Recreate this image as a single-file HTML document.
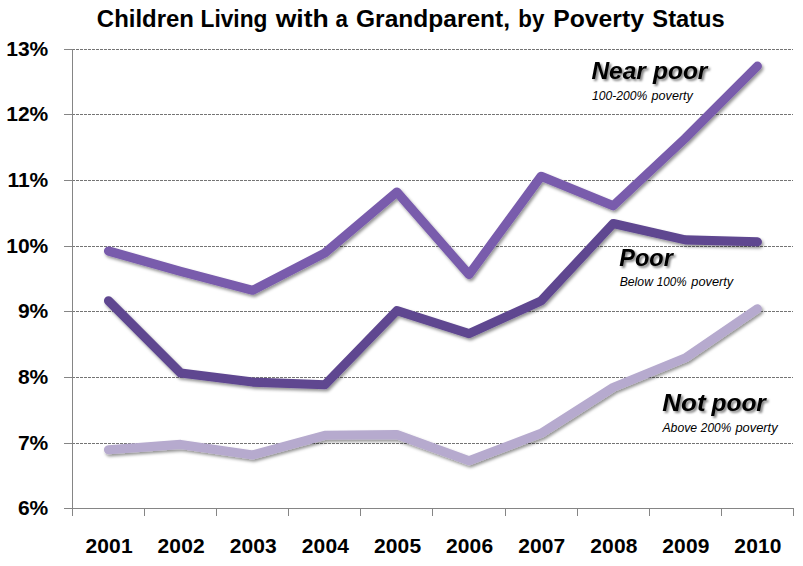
<!DOCTYPE html>
<html><head><meta charset="utf-8"><title>Children Living with a Grandparent, by Poverty Status</title>
<style>
html,body{margin:0;padding:0;background:#fff;}
body{width:803px;height:566px;overflow:hidden;font-family:"Liberation Sans",sans-serif;}
svg{display:block;}
text{font-family:"Liberation Sans",sans-serif;fill:#000;}
.ax{font-size:21px;font-weight:bold;}
.xl{letter-spacing:0.15px;}
.ti{font-size:23px;font-weight:bold;}
.big{font-size:24.3px;font-weight:bold;font-style:italic;}
.sm{font-size:12px;font-style:italic;}
</style></head><body>
<svg width="803" height="566" viewBox="0 0 803 566">
<defs>
<filter id="ls" x="-5%" y="-5%" width="110%" height="115%"><feDropShadow dx="1.5" dy="2.2" stdDeviation="1.8" flood-color="#000" flood-opacity="0.42"/></filter>
<filter id="ts" x="-10%" y="-20%" width="120%" height="150%"><feDropShadow dx="1.9" dy="1.9" stdDeviation="1.2" flood-color="#000" flood-opacity="0.5"/></filter>
</defs>
<rect width="803" height="566" fill="#fff"/>
<g shape-rendering="crispEdges">
<line x1="72" y1="49.5" x2="793" y2="49.5" stroke="#747474" stroke-width="1" stroke-dasharray="3 1"/>
<line x1="72" y1="114.5" x2="793" y2="114.5" stroke="#747474" stroke-width="1" stroke-dasharray="3 1"/>
<line x1="72" y1="180.5" x2="793" y2="180.5" stroke="#747474" stroke-width="1" stroke-dasharray="3 1"/>
<line x1="72" y1="246.5" x2="793" y2="246.5" stroke="#747474" stroke-width="1" stroke-dasharray="3 1"/>
<line x1="72" y1="311.5" x2="793" y2="311.5" stroke="#747474" stroke-width="1" stroke-dasharray="3 1"/>
<line x1="72" y1="377.5" x2="793" y2="377.5" stroke="#747474" stroke-width="1" stroke-dasharray="3 1"/>
<line x1="72" y1="443.5" x2="793" y2="443.5" stroke="#747474" stroke-width="1" stroke-dasharray="3 1"/>
<line x1="64" y1="49.5" x2="73" y2="49.5" stroke="#858585" stroke-width="1"/>
<line x1="64" y1="114.5" x2="73" y2="114.5" stroke="#858585" stroke-width="1"/>
<line x1="64" y1="180.5" x2="73" y2="180.5" stroke="#858585" stroke-width="1"/>
<line x1="64" y1="246.5" x2="73" y2="246.5" stroke="#858585" stroke-width="1"/>
<line x1="64" y1="311.5" x2="73" y2="311.5" stroke="#858585" stroke-width="1"/>
<line x1="64" y1="377.5" x2="73" y2="377.5" stroke="#858585" stroke-width="1"/>
<line x1="64" y1="443.5" x2="73" y2="443.5" stroke="#858585" stroke-width="1"/>
<line x1="64" y1="508.5" x2="73" y2="508.5" stroke="#858585" stroke-width="1"/>
<line x1="72.5" y1="49" x2="72.5" y2="516" stroke="#858585" stroke-width="1"/>
<line x1="72" y1="508.5" x2="794" y2="508.5" stroke="#858585" stroke-width="1"/>
<line x1="144.5" y1="508" x2="144.5" y2="516" stroke="#858585" stroke-width="1"/>
<line x1="216.5" y1="508" x2="216.5" y2="516" stroke="#858585" stroke-width="1"/>
<line x1="288.5" y1="508" x2="288.5" y2="516" stroke="#858585" stroke-width="1"/>
<line x1="360.5" y1="508" x2="360.5" y2="516" stroke="#858585" stroke-width="1"/>
<line x1="432.5" y1="508" x2="432.5" y2="516" stroke="#858585" stroke-width="1"/>
<line x1="505.5" y1="508" x2="505.5" y2="516" stroke="#858585" stroke-width="1"/>
<line x1="577.5" y1="508" x2="577.5" y2="516" stroke="#858585" stroke-width="1"/>
<line x1="649.5" y1="508" x2="649.5" y2="516" stroke="#858585" stroke-width="1"/>
<line x1="721.5" y1="508" x2="721.5" y2="516" stroke="#858585" stroke-width="1"/>
<line x1="793.5" y1="508" x2="793.5" y2="516" stroke="#858585" stroke-width="1"/>
</g>
<polyline points="108.5,449.7 180.6,444.4 252.8,454.9 324.8,435.3 396.9,434.6 469.0,460.8 541.1,433.3 613.2,387.4 685.3,357.9 757.4,308.7" fill="none" stroke="#B6AACE" stroke-width="9.1" stroke-linecap="round" stroke-linejoin="round" filter="url(#ls)"/>
<polyline points="108.5,300.8 180.6,373.0 252.8,382.1 324.8,384.8 396.9,310.7 469.0,333.6 541.1,300.8 613.2,223.5 685.3,239.9 757.4,241.8" fill="none" stroke="#5F4790" stroke-width="9.1" stroke-linecap="round" stroke-linejoin="round" filter="url(#ls)"/>
<polyline points="108.5,251.0 180.6,271.3 252.8,290.3 324.8,253.0 396.9,192.0 469.0,274.6 541.1,176.3 613.2,205.8 685.3,138.2 757.4,66.1" fill="none" stroke="#795BAC" stroke-width="9.1" stroke-linecap="round" stroke-linejoin="round" filter="url(#ls)"/>
<text class="ax" x="48.3" y="55.6" text-anchor="end">13%</text>
<text class="ax" x="48.3" y="120.6" text-anchor="end">12%</text>
<text class="ax" x="48.3" y="186.6" text-anchor="end">11%</text>
<text class="ax" x="48.3" y="252.6" text-anchor="end">10%</text>
<text class="ax" x="48.3" y="317.6" text-anchor="end">9%</text>
<text class="ax" x="48.3" y="383.6" text-anchor="end">8%</text>
<text class="ax" x="48.3" y="449.6" text-anchor="end">7%</text>
<text class="ax" x="48.3" y="514.6" text-anchor="end">6%</text>
<text class="ax xl" x="109.1" y="552.6" text-anchor="middle">2001</text>
<text class="ax xl" x="181.2" y="552.6" text-anchor="middle">2002</text>
<text class="ax xl" x="253.3" y="552.6" text-anchor="middle">2003</text>
<text class="ax xl" x="325.4" y="552.6" text-anchor="middle">2004</text>
<text class="ax xl" x="397.6" y="552.6" text-anchor="middle">2005</text>
<text class="ax xl" x="469.6" y="552.6" text-anchor="middle">2006</text>
<text class="ax xl" x="541.8" y="552.6" text-anchor="middle">2007</text>
<text class="ax xl" x="613.9" y="552.6" text-anchor="middle">2008</text>
<text class="ax xl" x="685.9" y="552.6" text-anchor="middle">2009</text>
<text class="ax xl" x="758.0" y="552.6" text-anchor="middle">2010</text>
<text class="ti" x="96.86" y="27.0" textLength="97.14" lengthAdjust="spacingAndGlyphs">Children</text>
<text class="ti" x="200.52" y="27.0" textLength="66.91" lengthAdjust="spacingAndGlyphs">Living</text>
<text class="ti" x="275.72" y="27.0" textLength="53.04" lengthAdjust="spacingAndGlyphs">with</text>
<text class="ti" x="335.50" y="27.0" textLength="12.41" lengthAdjust="spacingAndGlyphs">a</text>
<text class="ti" x="356.04" y="27.0" textLength="154.05" lengthAdjust="spacingAndGlyphs">Grandparent,</text>
<text class="ti" x="518.34" y="27.0" textLength="26.04" lengthAdjust="spacingAndGlyphs">by</text>
<text class="ti" x="553.19" y="27.0" textLength="90.71" lengthAdjust="spacingAndGlyphs">Poverty</text>
<text class="ti" x="652.38" y="27.0" textLength="72.33" lengthAdjust="spacingAndGlyphs">Status</text>
<g filter="url(#ts)">
<text class="big" x="591.40" y="78.7" textLength="54.45" lengthAdjust="spacingAndGlyphs">Near</text>
<text class="big" x="653.00" y="78.7" textLength="54.35" lengthAdjust="spacingAndGlyphs">poor</text>
<text class="big" x="619.31" y="265.5" textLength="53.48" lengthAdjust="spacingAndGlyphs">Poor</text>
<text class="big" x="662.37" y="411.2" textLength="43.16" lengthAdjust="spacingAndGlyphs">Not</text>
<text class="big" x="711.50" y="411.2" textLength="54.35" lengthAdjust="spacingAndGlyphs">poor</text>
</g>
<text class="sm" x="591.90" y="99.7" textLength="55.38" lengthAdjust="spacingAndGlyphs">100-200%</text>
<text class="sm" x="651.61" y="99.7" textLength="41.25" lengthAdjust="spacingAndGlyphs">poverty</text>
<text class="sm" x="619.69" y="286.4" textLength="33.26" lengthAdjust="spacingAndGlyphs">Below</text>
<text class="sm" x="656.71" y="286.4" textLength="29.85" lengthAdjust="spacingAndGlyphs">100%</text>
<text class="sm" x="691.32" y="286.4" textLength="41.84" lengthAdjust="spacingAndGlyphs">poverty</text>
<text class="sm" x="662.41" y="432.3" textLength="34.77" lengthAdjust="spacingAndGlyphs">Above</text>
<text class="sm" x="700.80" y="432.3" textLength="30.47" lengthAdjust="spacingAndGlyphs">200%</text>
<text class="sm" x="735.42" y="432.3" textLength="42.23" lengthAdjust="spacingAndGlyphs">poverty</text>
</svg>
</body></html>
